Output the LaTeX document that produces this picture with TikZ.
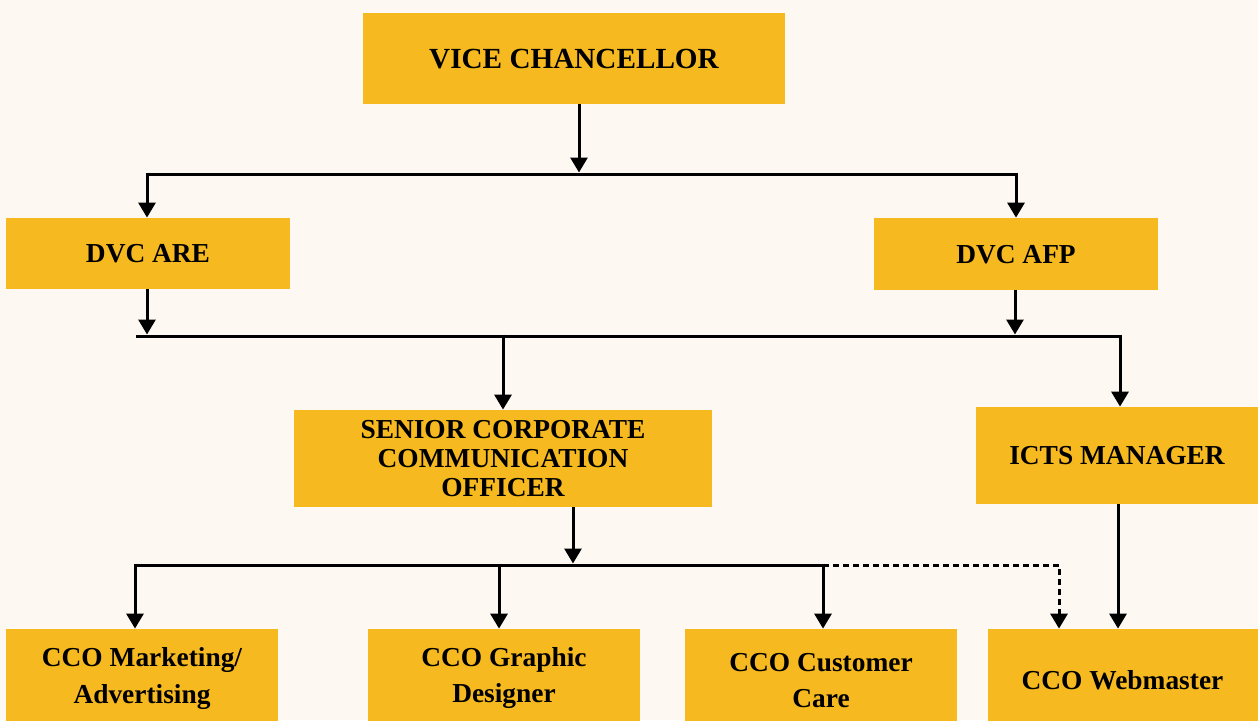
\documentclass[tikz,border=0pt]{standalone}
\usepackage{fontspec}
\setmainfont{Liberation Serif}
\usetikzlibrary{arrows.meta}
\definecolor{bgc}{HTML}{FDF8F1}
\definecolor{gold}{HTML}{F6B91F}
\tikzset{
  box/.style={fill=gold, draw=none, inner sep=0pt, align=center, font=\bfseries\fontsize{13.7}{14.5}\selectfont},
  capbox/.style={box, text depth=-2pt},
  ccobox/.style={box, font=\bfseries\fontsize{13.7}{18}\selectfont},
  conn/.style={line width=1.5pt, black},
  arr/.style={conn, -{Triangle[length=7.5pt,width=8.5pt]}},
  darr/.style={arr, dash pattern=on 3pt off 2pt},
}
\begin{document}
\begin{tikzpicture}[x=0.5pt,y=-0.5pt]
\fill[bgc] (0,0) rectangle (1258,720);
\clip (0,0) rectangle (1258,720);
% boxes
\node[capbox, minimum width=211pt, minimum height=45.5pt, font=\bfseries\fontsize{14.6}{16}\selectfont] (vc) at (574,58.5) {VICE CHANCELLOR};
\node[capbox, minimum width=142pt, minimum height=35.5pt] (are) at (148,253.5) {DVC ARE};
\node[capbox, minimum width=142pt, minimum height=36pt] (afp) at (1016,254) {DVC AFP};
\node[box, minimum width=209pt, minimum height=48.5pt] (scco) at (503,458.5) {SENIOR CORPORATE\\COMMUNICATION\\OFFICER};
\node[capbox, text depth=-2.5pt, minimum width=141pt, minimum height=48.5pt] (icts) at (1117,455.5) {ICTS MANAGER};
\node[ccobox, minimum width=136pt, minimum height=49.5pt] (mkt) at (142,678.5) {CCO Marketing/\\Advertising};
\node[ccobox, minimum width=136pt, minimum height=49pt] (gd) at (504,678) {CCO Graphic\\Designer};
\node[ccobox, minimum width=136pt, minimum height=51.5pt] (cc) at (821,680.5) {CCO Customer\\Care};
\node[ccobox, minimum width=135pt, minimum height=51pt] (wm) at (1122.5,680) {CCO Webmaster};
% bus coordinates
\coordinate (b1) at (579,174);
\coordinate (b1l) at (147,174);
\coordinate (b1r) at (1016,174);
\coordinate (b2l) at (136,336);
\coordinate (b2a) at (147,336);
\coordinate (b2b) at (1015,336);
\coordinate (b2s) at (503,336);
\coordinate (b2r) at (1120,336);
\coordinate (b3) at (573,565);
\coordinate (b3l) at (135,565);
\coordinate (b3g) at (499,565);
\coordinate (b3c) at (823,565);
\coordinate (b3w) at (1059,565);
\coordinate (wmi) at (1118,565);
% level 1
\draw[arr] (b1 |- vc.south) -- ([yshift=0.75pt]b1);
\draw[conn] (b1l) -- (b1r);
\draw[arr] ([yshift=0.75pt]b1l) -- (b1l |- are.north);
\draw[arr] ([yshift=0.75pt]b1r) -- (b1r |- afp.north);
% level 2
\draw[arr] (b2a |- are.south) -- ([yshift=0.75pt]b2a);
\draw[arr] (b2b |- afp.south) -- ([yshift=0.75pt]b2b);
\draw[conn] (b2l) -- (b2r);
\draw[arr] ([yshift=0.75pt]b2s) -- (b2s |- scco.north);
\draw[arr] ([yshift=0.75pt]b2r) -- (b2r |- icts.north);
% level 3
\draw[arr] (b3 |- scco.south) -- ([yshift=0.75pt]b3);
\draw[conn] (b3l) -- (b3c);
\draw[arr] ([yshift=0.75pt]b3l) -- (b3l |- mkt.north);
\draw[arr] ([yshift=0.75pt]b3g) -- (b3g |- gd.north);
\draw[arr] ([yshift=0.75pt]b3c) -- (b3c |- cc.north);
\draw[darr] (b3c) -- (b3w) -- (b3w |- wm.north);
\draw[arr] (wmi |- icts.south) -- (wmi |- wm.north);
\end{tikzpicture}
\end{document}
